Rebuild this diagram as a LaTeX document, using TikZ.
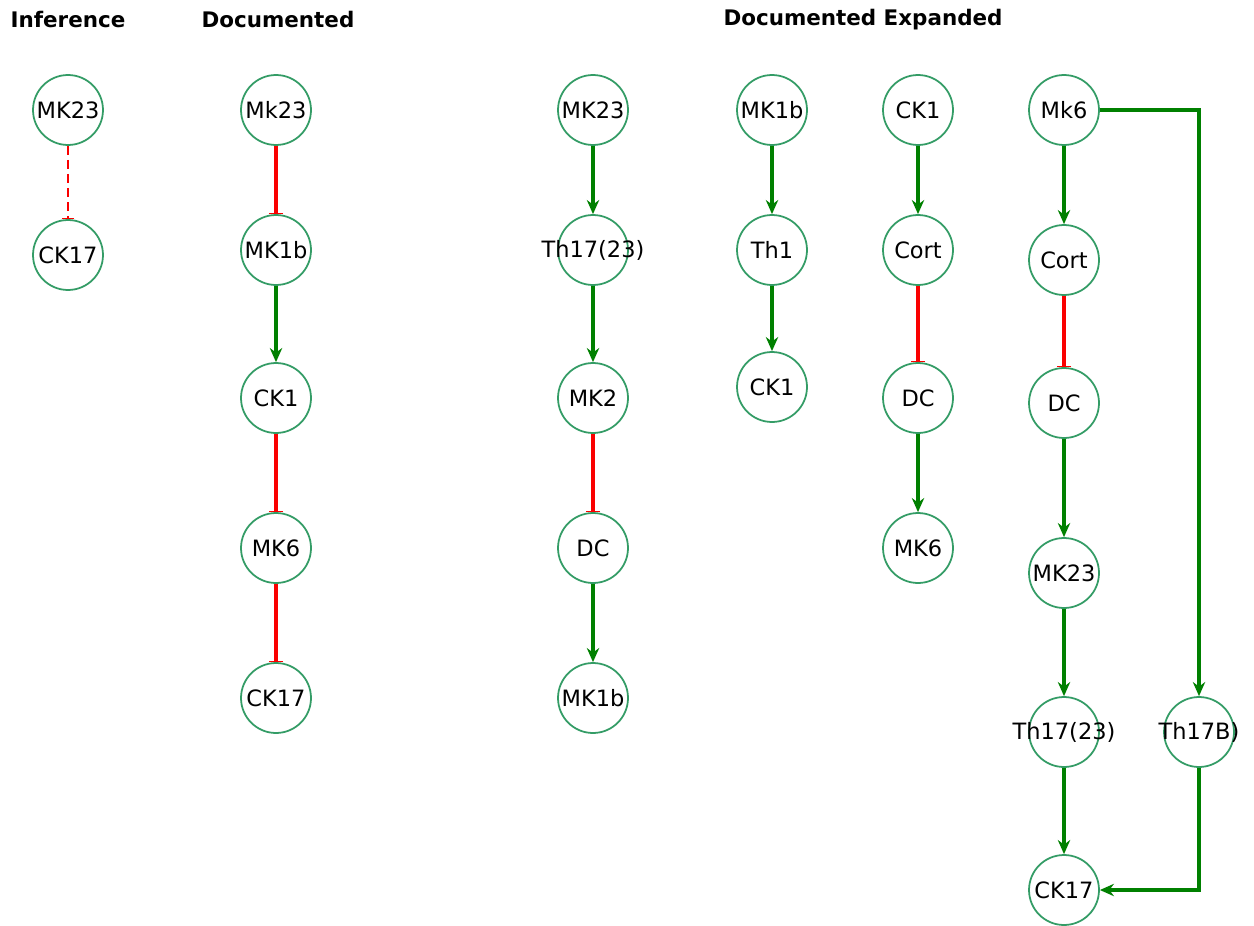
\documentclass[tikz,border=0pt]{standalone}
\usepackage{fontspec}
\setmainfont{DejaVu Sans}
\usepackage{tikz}
\usetikzlibrary{arrows.meta}

\definecolor{ringgreen}{RGB}{52,156,102}
\definecolor{actgreen}{RGB}{0,128,0}
\definecolor{inhred}{RGB}{250,0,0}

\newcommand{\nlab}[1]{\makebox[0pt]{#1}}

\tikzset{
  gene/.style={circle, draw=ringgreen, line width=1pt, fill=white, minimum size=1.4cm, inner sep=0pt, font=\fontsize{12.8}{15}\selectfont},
  head/.style={font=\bfseries\fontsize{12.2}{14}\selectfont},
  act/.style={draw=actgreen, line width=2pt, -{Stealth[length=8pt,width=7pt]}},
  inh/.style={draw=inhred, line width=2.1pt, -{Bar[width=8pt,line width=0.9pt]}},
  inhguess/.style={draw=inhred, line width=0.9pt, dash pattern=on 5pt off 3pt, -{Bar[width=7pt,line width=0.9pt]}}
}

\begin{document}
\begin{tikzpicture}[x=0.02cm, y=-0.02cm]
  \useasboundingbox (0,0) rectangle (1254,926);

  % headers
  \node[head] (hInf) at (68,20) {Inference};
  \node[head] (hDoc) at (278,20) {Documented};
  \node[head] (hExp) at (863,20) {Documented Expanded};

  % inference
  \node[gene] (iMK23) at (68,110) {\nlab{MK23}};
  \node[gene] (iCK17) at (68,255) {\nlab{CK17}};
  \draw[inhguess] (iMK23) -- (iCK17);

  % documented
  \node[gene] (dMk23) at (276,110) {\nlab{Mk23}};
  \node[gene] (dMK1b) at (276,250) {\nlab{MK1b}};
  \node[gene] (dCK1) at (276,398) {\nlab{CK1}};
  \node[gene] (dMK6) at (276,548) {\nlab{MK6}};
  \node[gene] (dCK17) at (276,698) {\nlab{CK17}};
  \draw[inh] (dMk23) -- (dMK1b);
  \draw[act] (dMK1b) -- (dCK1);
  \draw[inh] (dCK1) -- (dMK6);
  \draw[inh] (dMK6) -- (dCK17);

  % expanded, column a
  \node[gene] (aMK23) at (593,110) {\nlab{MK23}};
  \node[gene] (aTh17) at (593,250) {\nlab{Th17(23)}};
  \node[gene] (aMK2) at (593,398) {\nlab{MK2}};
  \node[gene] (aDC) at (593,548) {\nlab{DC}};
  \node[gene] (aMK1b) at (593,698) {\nlab{MK1b}};
  \draw[act] (aMK23) -- (aTh17);
  \draw[act] (aTh17) -- (aMK2);
  \draw[inh] (aMK2) -- (aDC);
  \draw[act] (aDC) -- (aMK1b);

  % column b
  \node[gene] (bMK1b) at (772,110) {\nlab{MK1b}};
  \node[gene] (bTh1) at (772,250) {\nlab{Th1}};
  \node[gene] (bCK1) at (772,387) {\nlab{CK1}};
  \draw[act] (bMK1b) -- (bTh1);
  \draw[act] (bTh1) -- (bCK1);

  % column c
  \node[gene] (cCK1) at (918,110) {\nlab{CK1}};
  \node[gene] (cCort) at (918,250) {\nlab{Cort}};
  \node[gene] (cDC) at (918,398) {\nlab{DC}};
  \node[gene] (cMK6) at (918,548) {\nlab{MK6}};
  \draw[act] (cCK1) -- (cCort);
  \draw[inh] (cCort) -- (cDC);
  \draw[act] (cDC) -- (cMK6);

  % column e
  \node[gene] (eMk6) at (1064,110) {\nlab{Mk6}};
  \node[gene] (eCort) at (1064,260) {\nlab{Cort}};
  \node[gene] (eDC) at (1064,403) {\nlab{DC}};
  \node[gene] (eMK23) at (1064,573) {\nlab{MK23}};
  \node[gene] (eTh17) at (1064,732) {\nlab{Th17(23)}};
  \node[gene] (eCK17) at (1064,890) {\nlab{CK17}};
  \node[gene] (eTh17B) at (1199,732) {\nlab{Th17B)}};
  \draw[act] (eMk6) -- (eCort);
  \draw[inh] (eCort) -- (eDC);
  \draw[act] (eDC) -- (eMK23);
  \draw[act] (eMK23) -- (eTh17);
  \draw[act] (eTh17) -- (eCK17);
  \draw[act] (eMk6) -| (eTh17B);
  \draw[act] (eTh17B) |- (eCK17);
\end{tikzpicture}
\end{document}
